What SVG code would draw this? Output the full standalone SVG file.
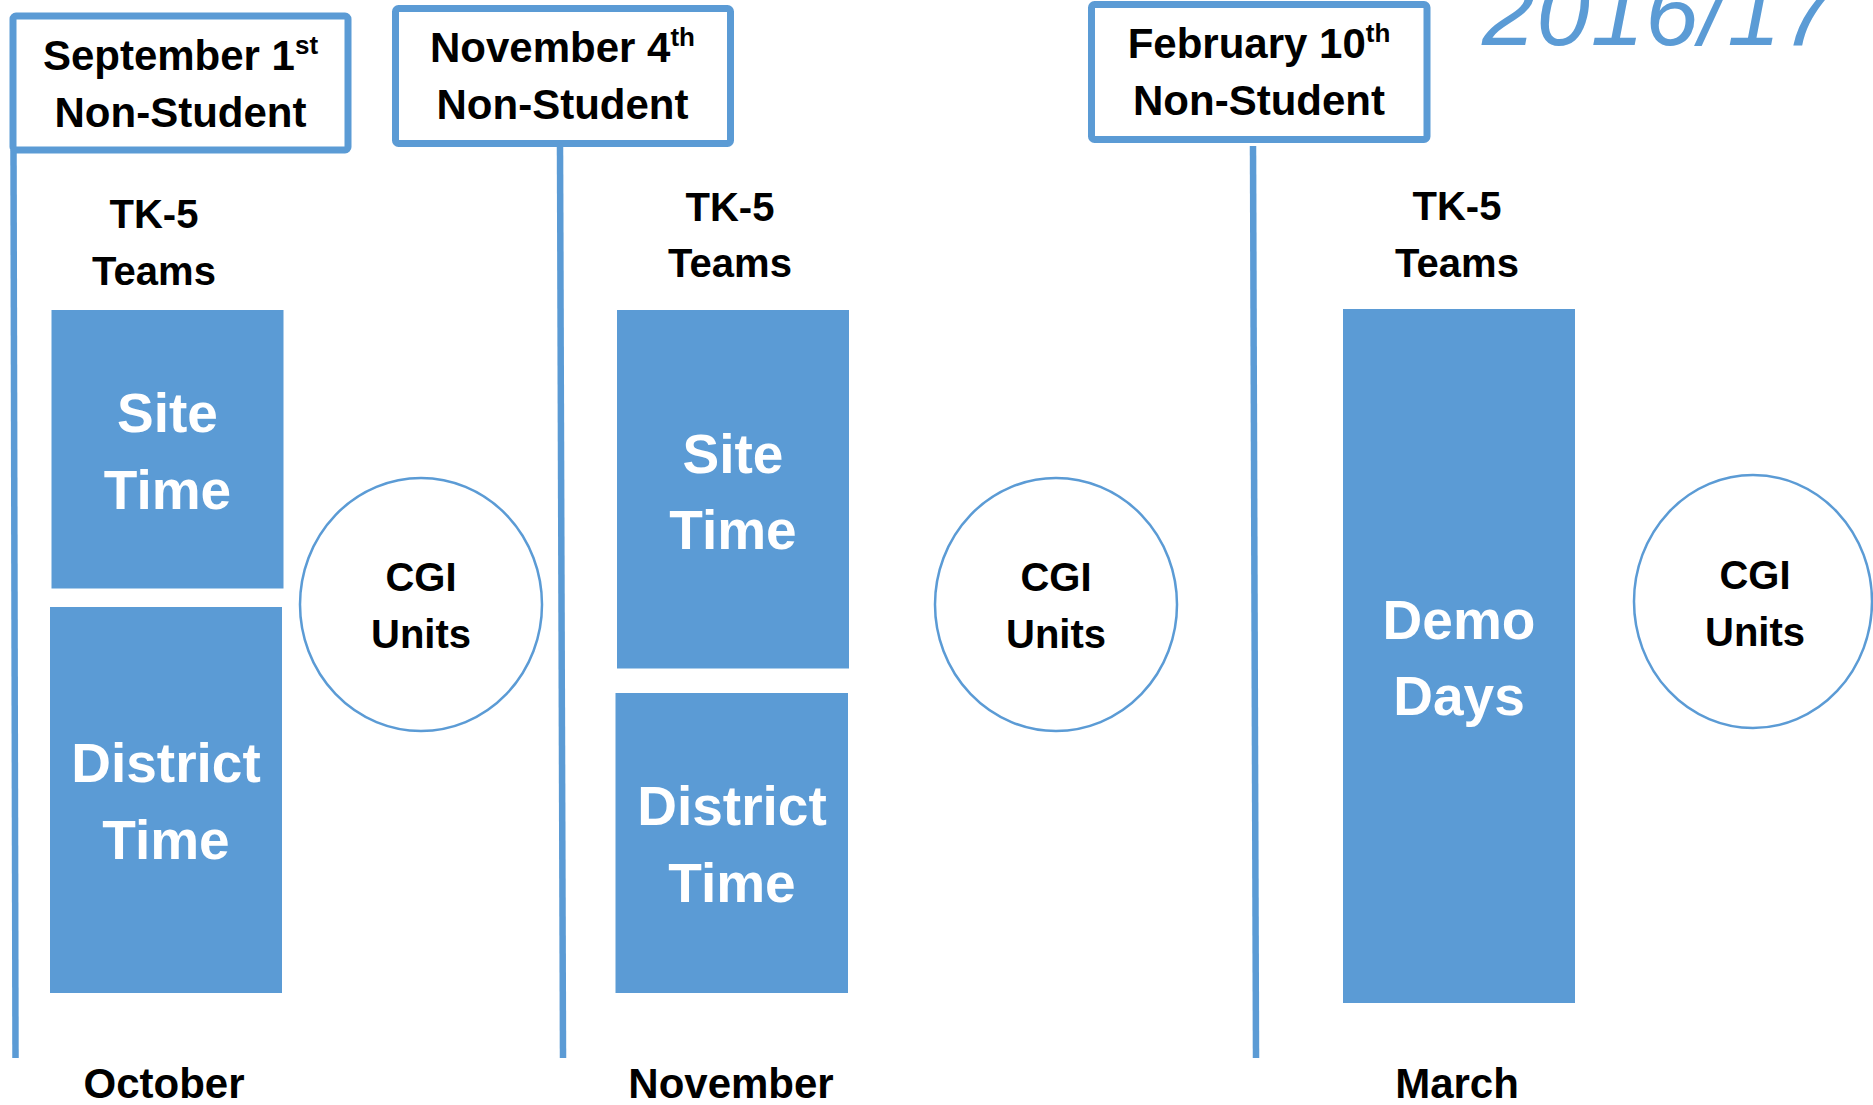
<svg xmlns="http://www.w3.org/2000/svg" width="1873" height="1105" viewBox="0 0 1873 1105">
<style>
.hdr{fill:#fff;stroke:#5B9BD5;stroke-width:7}
.blk{fill:#5B9BD5}
.cir{fill:#fff;stroke:#5B9BD5;stroke-width:2.5}
.t{font-family:"Liberation Sans",Arial,sans-serif;font-weight:bold;text-anchor:middle;fill:#000}
.h{font-size:42px}
.m{font-size:40px}
.w{font-family:"Liberation Sans",Arial,sans-serif;font-weight:bold;text-anchor:middle;fill:#fff;font-size:55px}
.sup{font-size:26px}
.line{stroke:#5B9BD5;stroke-width:6.5;fill:none}
</style>
<rect width="1873" height="1105" fill="#fff"/>
<g id="connectors">
<line class="line" x1="13.5" y1="150" x2="15.5" y2="1058"/>
<line class="line" x1="560" y1="146" x2="563" y2="1058"/>
<line class="line" x1="1253" y1="146" x2="1256" y2="1058"/>
</g>
<g id="year">
<text x="1482" y="45" font-family="Liberation Sans,Arial,sans-serif" font-style="italic" font-size="96" letter-spacing="1" fill="#5B9BD5">2016/17</text>
</g>
<g id="hdr1">
<rect class="hdr" x="13" y="16" width="335" height="134" rx="3"/>
<text class="t h" x="180.5" y="70">September 1<tspan class="sup" dy="-16">st</tspan></text>
<text class="t h" x="180.5" y="127">Non-Student</text>
</g>
<g id="hdr2">
<rect class="hdr" x="395.5" y="8.5" width="335" height="135" rx="3"/>
<text class="t h" x="562.5" y="62">November 4<tspan class="sup" dy="-16">th</tspan></text>
<text class="t h" x="562.5" y="119">Non-Student</text>
</g>
<g id="hdr3">
<rect class="hdr" x="1091.5" y="4.5" width="335.5" height="135" rx="3"/>
<text class="t h" x="1259" y="58">February 10<tspan class="sup" dy="-16">th</tspan></text>
<text class="t h" x="1259" y="115">Non-Student</text>
</g>
<g id="team1">
<text class="t m" x="154" y="228">TK-5</text>
<text class="t m" x="154" y="285">Teams</text>
</g>
<g id="team2">
<text class="t m" x="730" y="221">TK-5</text>
<text class="t m" x="730" y="277">Teams</text>
</g>
<g id="team3">
<text class="t m" x="1457" y="220">TK-5</text>
<text class="t m" x="1457" y="277">Teams</text>
</g>
<g id="site1">
<rect class="blk" x="51.5" y="310" width="232" height="278.5"/>
<text class="w" x="167.5" y="432">Site</text>
<text class="w" x="167.5" y="509">Time</text>
</g>
<g id="district1">
<rect class="blk" x="50" y="607" width="232" height="386"/>
<text class="w" x="166" y="782">District</text>
<text class="w" x="166" y="859">Time</text>
</g>
<g id="site2">
<rect class="blk" x="617" y="310" width="232" height="358.5"/>
<text class="w" x="733" y="473">Site</text>
<text class="w" x="733" y="549">Time</text>
</g>
<g id="district2">
<rect class="blk" x="615.5" y="693" width="232.5" height="300"/>
<text class="w" x="732" y="825">District</text>
<text class="w" x="732" y="902">Time</text>
</g>
<g id="demo">
<rect class="blk" x="1343" y="309" width="232" height="694"/>
<text class="w" x="1459" y="639">Demo</text>
<text class="w" x="1459" y="715">Days</text>
</g>
<g id="cgi1">
<ellipse class="cir" cx="421" cy="604.5" rx="121" ry="126.5"/>
<text class="t m" x="421" y="591">CGI</text>
<text class="t m" x="421" y="648">Units</text>
</g>
<g id="cgi2">
<ellipse class="cir" cx="1056" cy="604.5" rx="121" ry="126.5"/>
<text class="t m" x="1056" y="591">CGI</text>
<text class="t m" x="1056" y="648">Units</text>
</g>
<g id="cgi3">
<ellipse class="cir" cx="1753" cy="601.5" rx="119" ry="126.5"/>
<text class="t m" x="1755" y="589">CGI</text>
<text class="t m" x="1755" y="646">Units</text>
</g>
<g id="months">
<text class="t h" x="164" y="1098">October</text>
<text class="t h" x="731" y="1098">November</text>
<text class="t h" x="1457" y="1098">March</text>
</g>
</svg>
